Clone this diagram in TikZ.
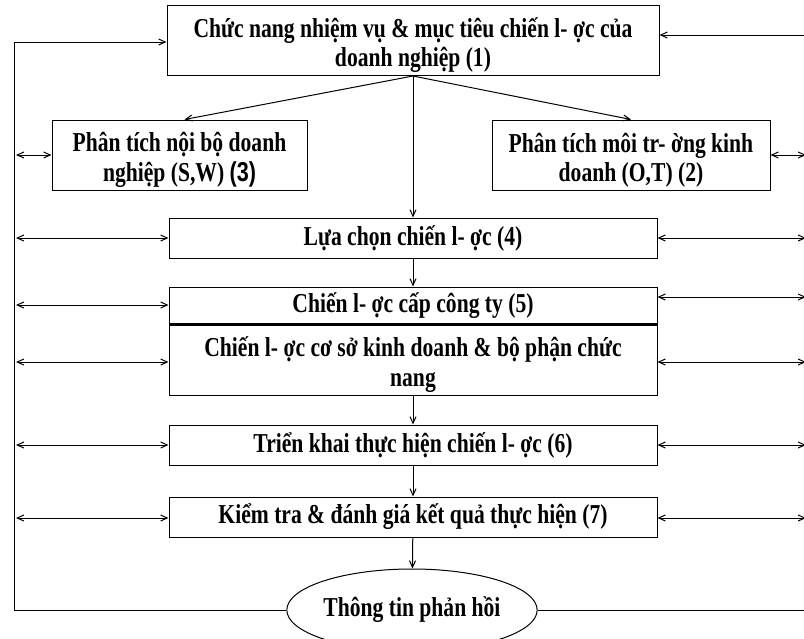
\documentclass[tikz,border=0pt]{standalone}
\usepackage{fontspec}
\setmainfont{Liberation Serif}[FakeStretch=0.79]
\newfontfamily\numfont{Liberation Sans}[FakeStretch=0.79]
\usetikzlibrary{arrows.meta,shapes.geometric}
% taller first line, so two-line labels sit a little lower in their boxes
\newcommand\lift{\rule{0pt}{22pt}}
\begin{document}
\begin{tikzpicture}[x=0.75pt,y=-0.75pt,
  font=\fontsize{20.5}{22}\selectfont\bfseries,
  line width=0.75pt,
  >={Straight Barb[length=5pt,width=4.5pt]},
  stage/.style={draw,rectangle,align=center,inner sep=0pt,
    minimum width=#1*0.75pt},
  stage/.default=488,
  link/.style={->},
  both/.style={<->}]
\useasboundingbox (0,0) rectangle (804,639);

% main chain of stages
\node[stage=492,minimum height=70*0.75pt] (mission) at (413,40.5)
  {\lift Chức nang nhiệm vụ \& mục tiêu chiến l- ợc của\\doanh nghiệp (1)};
\node[stage=255,minimum height=70*0.75pt] (internal) at (179.5,155)
  {\lift Phân tích nội bộ doanh\\nghiệp (S,W) {\numfont(3)}};
\node[stage=278,minimum height=70*0.75pt] (external) at (631,155)
  {\lift Phân tích môi tr- ờng kinh\\doanh (O,T) (2)};
\node[stage,minimum height=40*0.75pt] (choice) at (413,238)
  {Lựa chọn chiến l- ợc (4)};
\node[stage,minimum height=38*0.75pt] (corporate) at (413,306)
  {Chiến l- ợc cấp công ty (5)};
\node[stage,minimum height=70*0.75pt] (business) at (413,360)
  {\lift Chiến l- ợc cơ sở kinh doanh \& bộ phận chức\\nang};
\node[stage,minimum height=40*0.75pt] (deploy) at (413,445)
  {Triển khai thực hiện chiến l- ợc (6)};
\node[stage,minimum height=40*0.75pt] (control) at (413,517)
  {Kiểm tra \& đánh giá kết quả thực hiện (7)};
\node[draw,ellipse,inner sep=0pt,minimum width=244*0.75pt,
  minimum height=82*0.75pt] (feedback) at (412,610) {Thông tin phản hồi};

% heavier divider between the two strategy levels
\draw[line width=1.6pt] (business.north west) -- (business.north east);

% flow from the mission down the chain
\coordinate (fork) at (mission.south);
\draw[link] (fork) -- ([xshift=5*0.75pt]internal.north);
\draw[link] (fork) -- (external.north);
\draw[link] (fork) -- (choice.north);
\draw[link] (choice) -- (corporate);
\draw[link] (business) -- (deploy);
\draw[link] (deploy) -- (control);
\draw[link] (control) -- (feedback);

% feedback rails on both sides
\coordinate (lbot) at (14,610);
\coordinate (ltop) at (14,42);
\coordinate (rbot) at (807,610);
\coordinate (rtop) at (807,35);
\draw[link] (feedback.west |- lbot) -- (lbot) -- (ltop) -- (mission.west |- ltop);
\draw[link] (feedback.east |- rbot) -- (rbot) -- (rtop) -- (mission.east |- rtop);

% exchanges between the rails and each stage
\coordinate (l1) at (14,155);  \coordinate (r1) at (806,155);
\coordinate (l2) at (14,238);  \coordinate (r2) at (806,238);
\coordinate (l3) at (14,305);  \coordinate (r3) at (806,297);
\coordinate (l4) at (14,362);  \coordinate (r4) at (806,362);
\coordinate (l5) at (14,445);  \coordinate (r5) at (806,445);
\coordinate (l6) at (14,518);  \coordinate (r6) at (806,518);
\draw[both] ([xshift=1.5pt]l1) -- (internal.west |- l1);
\draw[both] (external.east |- r1) -- (r1);
\draw[both] ([xshift=1.5pt]l2) -- (choice.west |- l2);
\draw[both] (choice.east |- r2) -- (r2);
\draw[both] ([xshift=1.5pt]l3) -- (corporate.west |- l3);
\draw[both] (corporate.east |- r3) -- (r3);
\draw[both] ([xshift=1.5pt]l4) -- (business.west |- l4);
\draw[both] (business.east |- r4) -- (r4);
\draw[both] ([xshift=1.5pt]l5) -- (deploy.west |- l5);
\draw[both] (deploy.east |- r5) -- (r5);
\draw[both] ([xshift=1.5pt]l6) -- (control.west |- l6);
\draw[both] (control.east |- r6) -- (r6);
\end{tikzpicture}
\end{document}
